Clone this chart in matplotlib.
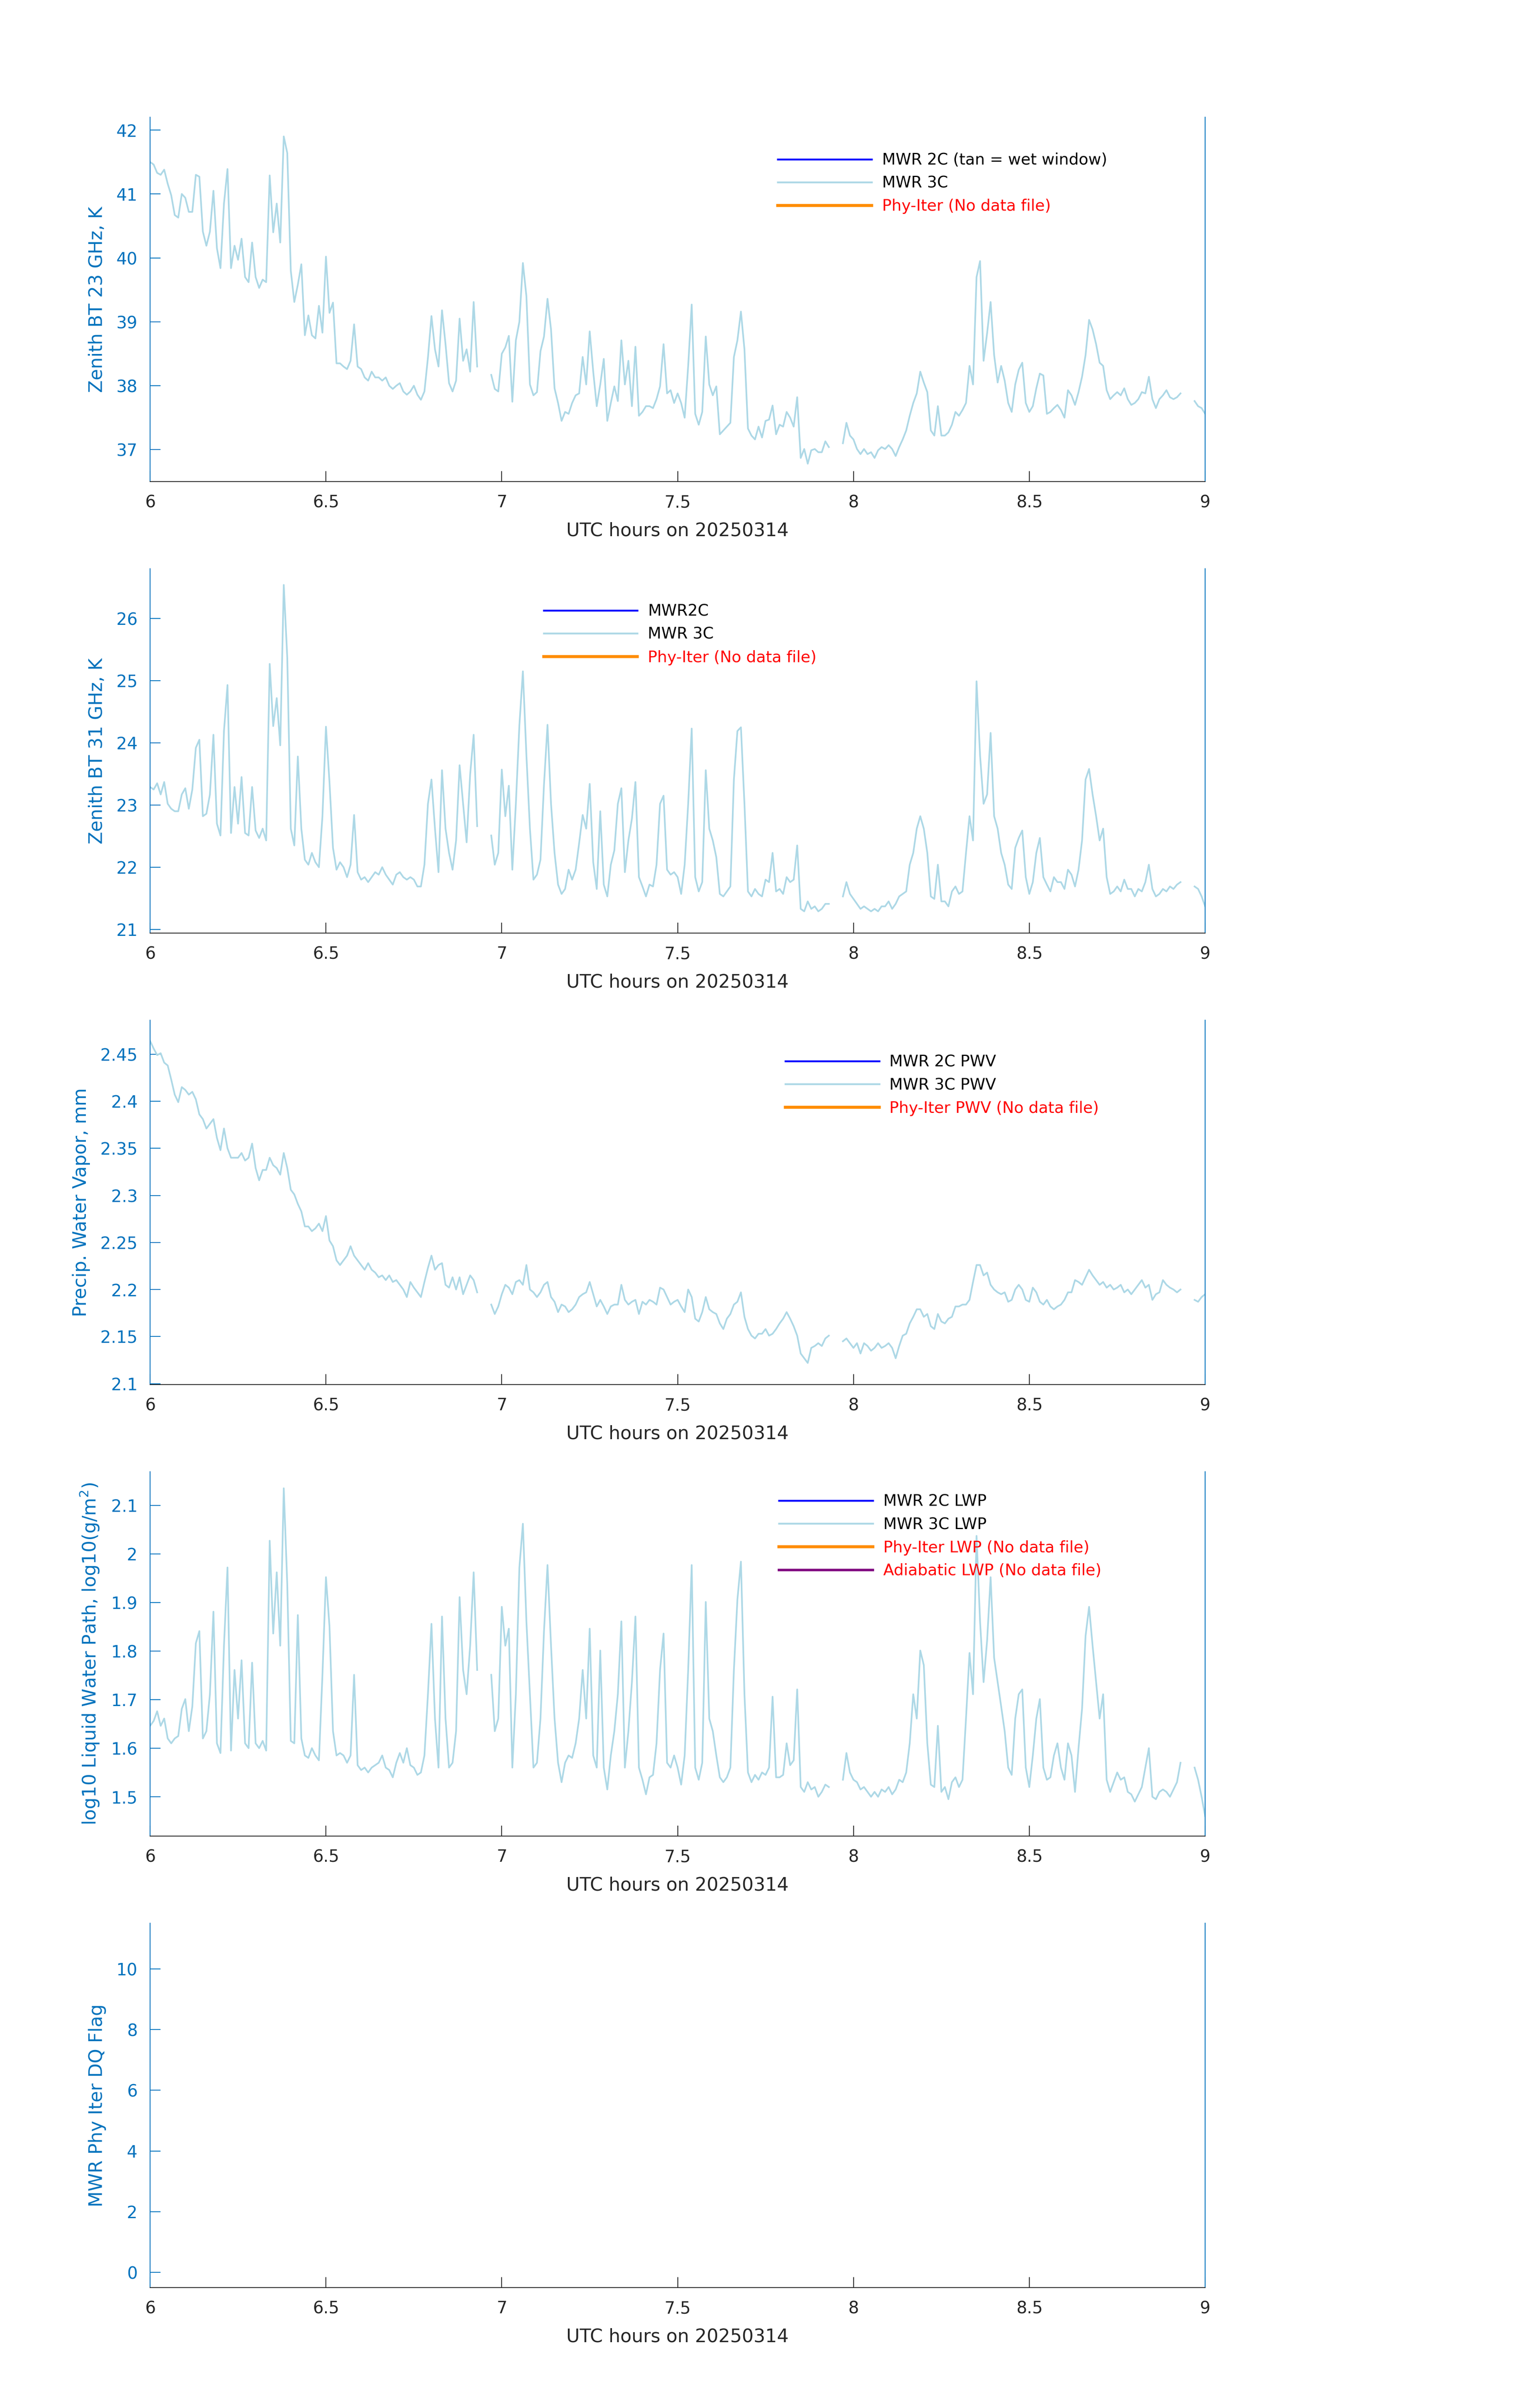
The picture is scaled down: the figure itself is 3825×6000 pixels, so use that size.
import numpy as np
import matplotlib
matplotlib.use("Agg")
import matplotlib.pyplot as plt
from matplotlib.ticker import FuncFormatter

nan = float("nan")

MATLAB_BLUE = "#0072BD"
DARK = "#262626"
LIGHT_BLUE = "#ADD8E6"

# sample times, 6.00 .. 9.00 UTC hours, every 0.01 h
hours = np.round(np.arange(600, 901) / 100.0, 2)

bt23_3c = [
    41.50, 41.46, 41.33, 41.30, 41.38, 41.16, 40.98, 40.67, 40.63, 41.00,
    40.94, 40.72, 40.72, 41.30, 41.27, 40.41, 40.19, 40.41, 41.05, 40.15,
    39.84, 40.85, 41.39, 39.84, 40.19, 39.97, 40.30, 39.70, 39.62, 40.24,
    39.70, 39.53, 39.66, 39.62, 41.29, 40.40, 40.85, 40.24, 41.90, 41.64,
    39.80, 39.31, 39.58, 39.90, 38.79, 39.10, 38.79, 38.74, 39.25, 38.83,
    40.02, 39.14, 39.30, 38.35, 38.35, 38.30, 38.26, 38.39, 38.96, 38.30,
    38.26, 38.13, 38.08, 38.22, 38.13, 38.13, 38.08, 38.13, 38.00, 37.95,
    38.00, 38.04, 37.91, 37.86, 37.91, 38.00, 37.86, 37.78, 37.91, 38.44,
    39.09, 38.57, 38.30, 39.18, 38.65, 38.04, 37.91, 38.08, 39.05, 38.39,
    38.57, 38.22, 39.31, 38.30, nan, nan, nan, 38.17, 37.95, 37.91,
    38.50, 38.60, 38.78, 37.75, 38.71, 39.00, 39.92, 39.40, 38.02, 37.85,
    37.90, 38.54, 38.77, 39.36, 38.88, 37.96, 37.73, 37.45, 37.59, 37.56,
    37.73, 37.85, 37.88, 38.45, 38.02, 38.85, 38.22, 37.68, 38.02, 38.42,
    37.45, 37.73, 37.99, 37.76, 38.71, 38.02, 38.39, 37.68, 38.61, 37.53,
    37.59, 37.68, 37.68, 37.65, 37.79, 37.99, 38.65, 37.88, 37.93, 37.73,
    37.88, 37.73, 37.50, 38.31, 39.27, 37.56, 37.39, 37.59, 38.77, 38.02,
    37.85, 37.99, 37.24, 37.30, 37.36, 37.42, 38.45, 38.71, 39.16, 38.57,
    37.33, 37.22, 37.16, 37.36, 37.19, 37.45, 37.47, 37.69, 37.24, 37.39,
    37.36, 37.59, 37.50, 37.36, 37.82, 36.87, 37.01, 36.78, 36.99, 37.01,
    36.96, 36.96, 37.13, 37.04, nan, nan, nan, 37.10, 37.42, 37.22,
    37.16, 37.01, 36.93, 37.01, 36.93, 36.96, 36.87, 36.99, 37.04, 37.01,
    37.07, 37.01, 36.90, 37.04, 37.16, 37.30, 37.53, 37.73, 37.88, 38.22,
    38.05, 37.90, 37.30, 37.22, 37.68, 37.22, 37.22, 37.27, 37.39, 37.59,
    37.53, 37.62, 37.73, 38.31, 38.02, 39.70, 39.95, 38.39, 38.82, 39.31,
    38.48, 38.05, 38.31, 38.08, 37.73, 37.59, 38.02, 38.25, 38.36, 37.73,
    37.59, 37.68, 37.96, 38.19, 38.16, 37.56, 37.59, 37.65, 37.70, 37.62,
    37.50, 37.93, 37.85, 37.70, 37.90, 38.14, 38.48, 39.03, 38.88, 38.65,
    38.36, 38.31, 37.93, 37.79, 37.85, 37.90, 37.85, 37.96, 37.79, 37.70,
    37.73, 37.79, 37.90, 37.88, 38.14, 37.79, 37.65, 37.79, 37.85, 37.93,
    37.82, 37.79, 37.82, 37.88, nan, nan, nan, 37.76, 37.68, 37.65,
    37.56,
]

bt31_3c = [
    23.29, 23.25, 23.35, 23.17, 23.37, 23.02, 22.94, 22.90, 22.90, 23.17,
    23.27, 22.94, 23.25, 23.92, 24.05, 22.82, 22.86, 23.17, 24.13, 22.70,
    22.51, 24.19, 24.93, 22.55, 23.29, 22.70, 23.45, 22.55, 22.51, 23.29,
    22.59, 22.47, 22.62, 22.43, 25.27, 24.27, 24.72, 23.96, 26.54, 25.37,
    22.62, 22.35, 23.78, 22.62, 22.12, 22.04, 22.23, 22.08, 22.00, 22.82,
    24.26, 23.37, 22.31, 21.96, 22.08, 22.00, 21.84, 22.04, 22.84, 21.92,
    21.80, 21.84, 21.76, 21.84, 21.92, 21.88, 22.00, 21.88, 21.80, 21.72,
    21.88, 21.92, 21.84, 21.80, 21.84, 21.80, 21.69, 21.69, 22.04, 23.02,
    23.41, 22.62, 21.92, 23.56, 22.62, 22.23, 21.96, 22.43, 23.64, 23.02,
    22.40, 23.49, 24.13, 22.66, nan, nan, nan, 22.51, 22.04, 22.23,
    23.57, 22.82, 23.31, 21.96, 23.02, 24.28, 25.15, 23.80, 22.62, 21.80,
    21.88, 22.12, 23.33, 24.29, 23.02, 22.23, 21.72, 21.57, 21.65, 21.96,
    21.80, 21.96, 22.39, 22.84, 22.62, 23.34, 22.08, 21.65, 22.90, 21.72,
    21.53, 22.04, 22.27, 23.02, 23.27, 21.92, 22.43, 22.78, 23.37, 21.84,
    21.69, 21.53, 21.72, 21.69, 22.04, 23.02, 23.15, 21.96, 21.88, 21.92,
    21.84, 21.57, 22.04, 23.02, 24.23, 21.84, 21.61, 21.76, 23.56, 22.62,
    22.43, 22.16, 21.57, 21.53, 21.61, 21.69, 23.41, 24.19, 24.25, 23.02,
    21.61, 21.53, 21.65, 21.57, 21.53, 21.80, 21.76, 22.23, 21.61, 21.65,
    21.57, 21.84, 21.76, 21.80, 22.35, 21.33, 21.29, 21.45, 21.33, 21.37,
    21.29, 21.33, 21.41, 21.41, nan, nan, nan, 21.53, 21.76, 21.57,
    21.49, 21.41, 21.33, 21.37, 21.33, 21.29, 21.33, 21.29, 21.37, 21.37,
    21.45, 21.33, 21.41, 21.53, 21.57, 21.61, 22.04, 22.23, 22.62, 22.82,
    22.62, 22.23, 21.53, 21.49, 22.04, 21.45, 21.45, 21.37, 21.61, 21.69,
    21.57, 21.61, 22.23, 22.82, 22.43, 24.99, 23.80, 23.02, 23.17, 24.16,
    22.82, 22.62, 22.23, 22.04, 21.72, 21.65, 22.31, 22.47, 22.59, 21.84,
    21.57, 21.76, 22.23, 22.47, 21.84, 21.72, 21.61, 21.84, 21.76, 21.76,
    21.65, 21.96, 21.88, 21.69, 21.96, 22.43, 23.41, 23.58, 23.17, 22.82,
    22.43, 22.62, 21.84, 21.57, 21.61, 21.69, 21.61, 21.80, 21.65, 21.65,
    21.53, 21.65, 21.61, 21.76, 22.04, 21.65, 21.53, 21.57, 21.65, 21.61,
    21.69, 21.65, 21.72, 21.76, nan, nan, nan, 21.69, 21.65, 21.53,
    21.37,
]

pwv_3c = [
    2.464, 2.456, 2.449, 2.451, 2.441, 2.438, 2.423, 2.407, 2.399, 2.415,
    2.412, 2.407, 2.410, 2.402, 2.386, 2.381, 2.371, 2.376, 2.381, 2.361,
    2.348, 2.371, 2.350, 2.340, 2.340, 2.340, 2.345, 2.337, 2.340, 2.355,
    2.329, 2.316, 2.327, 2.327, 2.340, 2.332, 2.329, 2.322, 2.345, 2.329,
    2.306, 2.301, 2.291, 2.283, 2.267, 2.267, 2.262, 2.265, 2.270, 2.262,
    2.278, 2.252, 2.246, 2.231, 2.226, 2.231, 2.236, 2.246, 2.236, 2.231,
    2.226, 2.221, 2.228, 2.221, 2.218, 2.213, 2.215, 2.210, 2.215, 2.208,
    2.210, 2.205, 2.200, 2.192, 2.208, 2.202, 2.197, 2.192, 2.208, 2.223,
    2.236, 2.221, 2.226, 2.228, 2.205, 2.202, 2.213, 2.200, 2.213, 2.195,
    2.205, 2.215, 2.210, 2.197, nan, nan, nan, 2.184, 2.174, 2.182,
    2.195, 2.205, 2.202, 2.195, 2.208, 2.210, 2.205, 2.226, 2.200, 2.197,
    2.192, 2.197, 2.205, 2.208, 2.192, 2.187, 2.176, 2.184, 2.182, 2.176,
    2.179, 2.184, 2.192, 2.195, 2.197, 2.208, 2.195, 2.182, 2.189, 2.182,
    2.174, 2.182, 2.184, 2.184, 2.205, 2.189, 2.184, 2.187, 2.189, 2.174,
    2.187, 2.184, 2.189, 2.187, 2.184, 2.202, 2.200, 2.192, 2.184, 2.187,
    2.189, 2.182, 2.176, 2.200, 2.192, 2.169, 2.166, 2.176, 2.192, 2.179,
    2.176, 2.174, 2.164, 2.158, 2.169, 2.174, 2.184, 2.187, 2.197, 2.171,
    2.158, 2.151, 2.148, 2.153, 2.153, 2.158, 2.151, 2.153, 2.158, 2.164,
    2.169, 2.176, 2.169, 2.161, 2.151, 2.132, 2.127, 2.122, 2.138, 2.140,
    2.143, 2.140, 2.148, 2.151, nan, nan, nan, 2.145, 2.148, 2.143,
    2.138, 2.143, 2.132, 2.143, 2.140, 2.135, 2.138, 2.143, 2.138, 2.140,
    2.143, 2.138, 2.127, 2.140, 2.151, 2.153, 2.164, 2.171, 2.179, 2.179,
    2.171, 2.174, 2.161, 2.158, 2.174, 2.166, 2.164, 2.169, 2.171, 2.182,
    2.182, 2.184, 2.184, 2.189, 2.208, 2.226, 2.226, 2.215, 2.218, 2.205,
    2.200, 2.197, 2.195, 2.197, 2.187, 2.189, 2.200, 2.205, 2.200, 2.189,
    2.187, 2.202, 2.197, 2.187, 2.184, 2.189, 2.182, 2.179, 2.182, 2.184,
    2.189, 2.197, 2.197, 2.210, 2.208, 2.205, 2.213, 2.221, 2.215, 2.210,
    2.205, 2.208, 2.202, 2.205, 2.200, 2.202, 2.205, 2.197, 2.200, 2.195,
    2.200, 2.205, 2.210, 2.202, 2.205, 2.189, 2.195, 2.197, 2.210, 2.205,
    2.202, 2.200, 2.197, 2.200, nan, nan, nan, 2.189, 2.187, 2.192,
    2.195,
]

lwp_3c = [
    1.646, 1.656, 1.676, 1.646, 1.661, 1.620, 1.610, 1.620, 1.625, 1.681,
    1.701, 1.635, 1.686, 1.816, 1.841, 1.620, 1.635, 1.711, 1.881, 1.610,
    1.590, 1.811, 1.972, 1.595, 1.761, 1.661, 1.781, 1.610, 1.600, 1.776,
    1.610, 1.600, 1.615, 1.595, 2.027, 1.836, 1.962, 1.811, 2.135, 1.937,
    1.615, 1.610, 1.874, 1.620, 1.585, 1.580, 1.600, 1.585, 1.575, 1.751,
    1.952, 1.851, 1.635, 1.585, 1.590, 1.585, 1.570, 1.585, 1.751, 1.565,
    1.555, 1.560, 1.550, 1.560, 1.565, 1.570, 1.585, 1.560, 1.555, 1.540,
    1.570, 1.590, 1.570, 1.600, 1.565, 1.560, 1.545, 1.550, 1.585, 1.711,
    1.856, 1.661, 1.560, 1.871, 1.661, 1.560, 1.570, 1.635, 1.911, 1.761,
    1.711, 1.811, 1.962, 1.761, nan, nan, nan, 1.751, 1.635, 1.661,
    1.891, 1.811, 1.846, 1.560, 1.711, 1.972, 2.062, 1.861, 1.711, 1.560,
    1.570, 1.661, 1.841, 1.977, 1.811, 1.661, 1.570, 1.530, 1.570, 1.585,
    1.580, 1.610, 1.661, 1.761, 1.661, 1.846, 1.585, 1.560, 1.801, 1.560,
    1.515, 1.585, 1.635, 1.711, 1.861, 1.560, 1.635, 1.736, 1.871, 1.560,
    1.535, 1.505, 1.540, 1.545, 1.610, 1.761, 1.836, 1.570, 1.560, 1.585,
    1.560, 1.525, 1.585, 1.761, 1.977, 1.560, 1.535, 1.570, 1.901, 1.661,
    1.635, 1.585, 1.540, 1.530, 1.540, 1.560, 1.761, 1.906, 1.984, 1.711,
    1.550, 1.530, 1.545, 1.535, 1.550, 1.545, 1.560, 1.706, 1.540, 1.540,
    1.545, 1.610, 1.565, 1.575, 1.721, 1.520, 1.510, 1.530, 1.515, 1.520,
    1.500, 1.510, 1.525, 1.520, nan, nan, nan, 1.535, 1.590, 1.550,
    1.535, 1.530, 1.515, 1.520, 1.510, 1.500, 1.510, 1.500, 1.515, 1.510,
    1.520, 1.505, 1.515, 1.535, 1.530, 1.550, 1.610, 1.711, 1.661, 1.801,
    1.771, 1.610, 1.525, 1.520, 1.646, 1.510, 1.520, 1.495, 1.530, 1.540,
    1.520, 1.535, 1.661, 1.796, 1.711, 2.037, 1.861, 1.736, 1.821, 1.952,
    1.786, 1.736, 1.686, 1.635, 1.560, 1.545, 1.661, 1.711, 1.721, 1.560,
    1.520, 1.585, 1.661, 1.701, 1.560, 1.535, 1.540, 1.585, 1.610, 1.560,
    1.535, 1.610, 1.585, 1.510, 1.600, 1.681, 1.831, 1.891, 1.811, 1.736,
    1.661, 1.711, 1.535, 1.510, 1.530, 1.550, 1.535, 1.540, 1.510, 1.505,
    1.490, 1.505, 1.520, 1.560, 1.600, 1.500, 1.495, 1.510, 1.515, 1.510,
    1.500, 1.515, 1.530, 1.570, nan, nan, nan, 1.560, 1.535, 1.500,
    1.460,
]

x_ticks = [6, 6.5, 7, 7.5, 8, 8.5, 9]
x_label = "UTC hours on 20250314"

panels = [
    {
        "values": bt23_3c,
        "ylabel": "Zenith BT 23 GHz, K",
        "ylim": (36.5, 42.2),
        "yticks": [37, 38, 39, 40, 41, 42],
        "legend": [
            ("MWR 2C (tan = wet window)", "#0000FF", 1.1, "black"),
            ("MWR 3C", LIGHT_BLUE, 1.1, "black"),
            ("Phy-Iter (No data file)", "#FF8C00", 1.8, "red"),
        ],
        "legend_at": (0.595, 0.903),
    },
    {
        "values": bt31_3c,
        "ylabel": "Zenith BT 31 GHz, K",
        "ylim": (20.94, 26.8),
        "yticks": [21, 22, 23, 24, 25, 26],
        "legend": [
            ("MWR2C", "#0000FF", 1.1, "black"),
            ("MWR 3C", LIGHT_BLUE, 1.1, "black"),
            ("Phy-Iter (No data file)", "#FF8C00", 1.8, "red"),
        ],
        "legend_at": (0.373, 0.904),
    },
    {
        "values": pwv_3c,
        "ylabel": "Precip. Water Vapor, mm",
        "ylim": (2.099, 2.486),
        "yticks": [2.1, 2.15, 2.2, 2.25, 2.3, 2.35, 2.4, 2.45],
        "legend": [
            ("MWR 2C PWV", "#0000FF", 1.1, "black"),
            ("MWR 3C PWV", LIGHT_BLUE, 1.1, "black"),
            ("Phy-Iter PWV (No data file)", "#FF8C00", 1.8, "red"),
        ],
        "legend_at": (0.602, 0.906),
    },
    {
        "values": lwp_3c,
        "ylabel": r"log10 Liquid Water Path, log10(g/m$^2$)",
        "ylim": (1.419, 2.169),
        "yticks": [1.5, 1.6, 1.7, 1.8, 1.9, 2.0, 2.1],
        "legend": [
            ("MWR 2C LWP", "#0000FF", 1.1, "black"),
            ("MWR 3C LWP", LIGHT_BLUE, 1.1, "black"),
            ("Phy-Iter LWP (No data file)", "#FF8C00", 1.8, "red"),
            ("Adiabatic LWP (No data file)", "#800080", 1.5, "red"),
        ],
        "legend_at": (0.596, 0.939),
    },
    {
        "values": None,
        "ylabel": "MWR Phy Iter DQ Flag",
        "ylim": (-0.5, 11.5),
        "yticks": [0, 2, 4, 6, 8, 10],
        "legend": [],
        "legend_at": None,
    },
]

fmt = FuncFormatter(lambda v, pos: f"{v:g}")

fig = plt.figure(figsize=(12.75, 20), dpi=300)
plt.rcParams["font.family"] = ["DejaVu Sans"]

left, width, height = 0.0978, 0.6873, 0.1513
bottoms = [0.80, 0.6125, 0.425, 0.2375, 0.05]

for panel, bottom in zip(panels, bottoms):
    ax = fig.add_axes([left, bottom, width, height])

    if panel["values"] is not None:
        ax.plot(hours, np.array(panel["values"], dtype=float),
                color=LIGHT_BLUE, linewidth=1.0)

    handles = []
    for label, color, lw, _ in panel["legend"]:
        line, = ax.plot([], [], color=color, linewidth=lw, label=label)
        handles.append(line)

    ax.set_xlim(6, 9)
    ax.set_ylim(*panel["ylim"])
    ax.set_xticks(x_ticks)
    ax.set_yticks(panel["yticks"])
    ax.xaxis.set_major_formatter(fmt)
    ax.yaxis.set_major_formatter(fmt)

    ax.spines["top"].set_visible(False)
    ax.spines["left"].set_color(MATLAB_BLUE)
    ax.spines["right"].set_color(MATLAB_BLUE)
    ax.spines["bottom"].set_color(DARK)
    for s in ax.spines.values():
        s.set_linewidth(0.5)

    ax.tick_params(axis="x", direction="in", length=6.3, width=0.5,
                   color=DARK, labelcolor=DARK, labelsize=10, pad=7.5)
    ax.tick_params(axis="y", direction="in", length=6.3, width=0.5,
                   color=MATLAB_BLUE, labelcolor=MATLAB_BLUE, labelsize=10,
                   pad=7.5, right=False)

    ax.set_xlabel(x_label, fontsize=11, color=DARK, labelpad=6.5)
    ax.set_ylabel(panel["ylabel"], fontsize=11, color=MATLAB_BLUE, labelpad=6)

    if handles:
        leg = ax.legend(handles=handles, loc="upper left",
                        bbox_to_anchor=panel["legend_at"], frameon=False,
                        fontsize=9.4, handlelength=5.97, handletextpad=0.66,
                        labelspacing=0.5, borderpad=0, borderaxespad=0)
        for txt, (_, _, _, tcolor) in zip(leg.get_texts(), panel["legend"]):
            txt.set_color(tcolor)

fig.savefig("out.png", dpi=300)
